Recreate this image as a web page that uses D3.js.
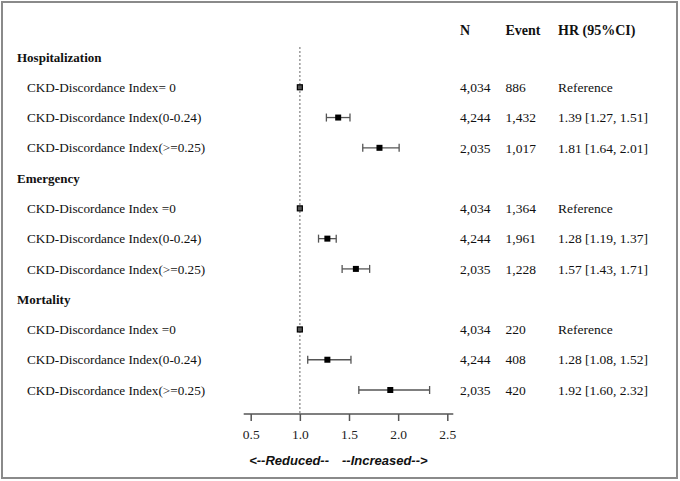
<!DOCTYPE html>
<html>
<head>
<meta charset="utf-8">
<script src="https://cdn.jsdelivr.net/npm/d3@7"></script>
<style>
  body { margin: 0; background: #fff; }
  svg { display: block; }
</style>
</head>
<body>
<div id="display"></div>
<script>
// data
const outcomes = ["Hospitalization", "Emergency", "Mortality"];
const rowLabels = [
  ["CKD-Discordance Index= 0", "CKD-Discordance Index(0-0.24)", "CKD-Discordance Index(>=0.25)"],
  ["CKD-Discordance Index =0", "CKD-Discordance Index(0-0.24)", "CKD-Discordance Index(>=0.25)"],
  ["CKD-Discordance Index =0", "CKD-Discordance Index(0-0.24)", "CKD-Discordance Index(>=0.25)"]
];
const hr    = [[1, 1.39, 1.81], [1, 1.28, 1.57], [1, 1.28, 1.92]];
const lower = [[1, 1.27, 1.64], [1, 1.19, 1.43], [1, 1.08, 1.60]];
const upper = [[1, 1.51, 2.01], [1, 1.37, 1.71], [1, 1.52, 2.32]];
const nTotal = [["4,034", "4,244", "2,035"], ["4,034", "4,244", "2,035"], ["4,034", "4,244", "2,035"]];
const events = [["886", "1,432", "1,017"], ["1,364", "1,961", "1,228"], ["220", "408", "420"]];
const hrText = [
  ["Reference", "1.39 [1.27, 1.51]", "1.81 [1.64, 2.01]"],
  ["Reference", "1.28 [1.19, 1.37]", "1.57 [1.43, 1.71]"],
  ["Reference", "1.28 [1.08, 1.52]", "1.92 [1.60, 2.32]"]
];
const colHeads = ["N", "Event", "HR (95%CI)"];
const xTicks = [0.5, 1.0, 1.5, 2.0, 2.5];

const W = 680, H = 481;
const serif = "'Liberation Serif', 'Times New Roman', serif";
const sans = "'Liberation Sans', Arial, sans-serif";

const svg = d3.select('#display')
  .append('svg')
  .attr('width', W)
  .attr('height', H);

svg.append('rect')
  .attr('x', 2).attr('y', 2)
  .attr('width', 675).attr('height', 476)
  .attr('fill', 'white')
  .attr('stroke', '#8a8a8a')
  .attr('stroke-width', 2);

// flatten into rows: heading + 3 rows per outcome
const rows = [];
outcomes.forEach((o, g) => {
  rows.push({type: 'head', label: o});
  for (let i = 0; i < 3; i++) {
    rows.push({
      type: 'row', label: rowLabels[g][i],
      hr: hr[g][i], lo: lower[g][i], hi: upper[g][i],
      n: nTotal[g][i], ev: events[g][i], txt: hrText[g][i]
    });
  }
});

const x = d3.scaleLinear().domain([0.5, 2.5]).range([250.7, 447.3]);
const y = d3.scalePoint().domain(d3.range(rows.length)).range([57, 390]);

const axisY = 414;
const colX = [460, 505.5, 558];

// reference line at HR = 1
svg.append('line')
  .attr('x1', x(1)).attr('x2', x(1))
  .attr('y1', 47).attr('y2', axisY)
  .attr('stroke', '#9a9a9a')
  .attr('stroke-width', 1.5)
  .attr('stroke-dasharray', '2,2');

// column headers
svg.selectAll('text.colhead')
  .data(colHeads)
  .enter().append('text')
  .attr('class', 'colhead')
  .attr('x', (d, i) => colX[i])
  .attr('y', 30)
  .attr('dy', '0.35em')
  .attr('font-family', serif)
  .attr('font-weight', 'bold')
  .attr('font-size', '14px')
  .attr('fill', '#111')
  .text(d => d);

const rowG = svg.selectAll('g.row')
  .data(rows)
  .enter().append('g')
  .attr('class', 'row')
  .attr('transform', (d, i) => `translate(0, ${y(i)})`);

rowG.append('text')
  .attr('x', d => d.type === 'head' ? 17 : 27)
  .attr('dy', '0.35em')
  .attr('font-family', serif)
  .attr('font-weight', d => d.type === 'head' ? 'bold' : 'normal')
  .attr('font-size', d => d.type === 'head' ? '13px' : '13.2px')
  .attr('fill', '#111')
  .text(d => d.label);

const dataRows = rowG.filter(d => d.type === 'row');

dataRows.each(function (d) {
  const g = d3.select(this);
  [d.n, d.ev, d.txt].forEach((t, i) => {
    g.append('text')
      .attr('x', colX[i])
      .attr('dy', '0.35em')
      .attr('font-family', serif)
      .attr('font-size', '13.5px')
      .attr('fill', '#111')
      .text(t);
  });
  if (d.hi > d.lo) {
    g.append('line')
      .attr('x1', x(d.lo)).attr('x2', x(d.hi))
      .attr('stroke', '#555').attr('stroke-width', 1.3);
    [d.lo, d.hi].forEach(v => {
      g.append('line')
        .attr('x1', x(v)).attr('x2', x(v))
        .attr('y1', -4).attr('y2', 4)
        .attr('stroke', '#555').attr('stroke-width', 1.3);
    });
    g.append('rect')
      .attr('x', x(d.hr) - 3).attr('y', -3)
      .attr('width', 6).attr('height', 6)
      .attr('fill', '#000');
  } else {
    g.append('rect')
      .attr('x', x(d.hr) - 2.5).attr('y', -2.5)
      .attr('width', 5).attr('height', 5)
      .attr('fill', '#555')
      .attr('stroke', '#000')
      .attr('stroke-width', 1.2);
  }
});

// x axis
const axis = svg.append('g')
  .attr('transform', `translate(0, ${axisY})`)
  .call(d3.axisBottom(x)
    .tickValues(xTicks)
    .tickFormat(d3.format('.1f'))
    .tickSize(7)
    .tickSizeOuter(0)
    .tickPadding(8));

axis.select('.domain')
  .attr('d', `M${x(0.5) - 7},0H${x(2.5) + 6}`)
  .attr('stroke', '#555')
  .attr('stroke-width', 1.5);
axis.selectAll('.tick line')
  .attr('stroke', '#555')
  .attr('stroke-width', 1.5);
axis.selectAll('.tick text')
  .attr('font-family', serif)
  .attr('font-size', '13.5px')
  .attr('fill', '#222');

// direction labels
svg.append('text')
  .attr('x', 329).attr('y', 460)
  .attr('dy', '0.35em')
  .attr('text-anchor', 'end')
  .attr('font-family', sans)
  .attr('font-weight', 'bold')
  .attr('font-style', 'italic')
  .attr('font-size', '13px')
  .attr('fill', '#111')
  .text('<--Reduced--');

svg.append('text')
  .attr('x', 342).attr('y', 460)
  .attr('dy', '0.35em')
  .attr('font-family', sans)
  .attr('font-weight', 'bold')
  .attr('font-style', 'italic')
  .attr('font-size', '13px')
  .attr('fill', '#111')
  .text('--Increased-->');
</script>
</body>
</html>
